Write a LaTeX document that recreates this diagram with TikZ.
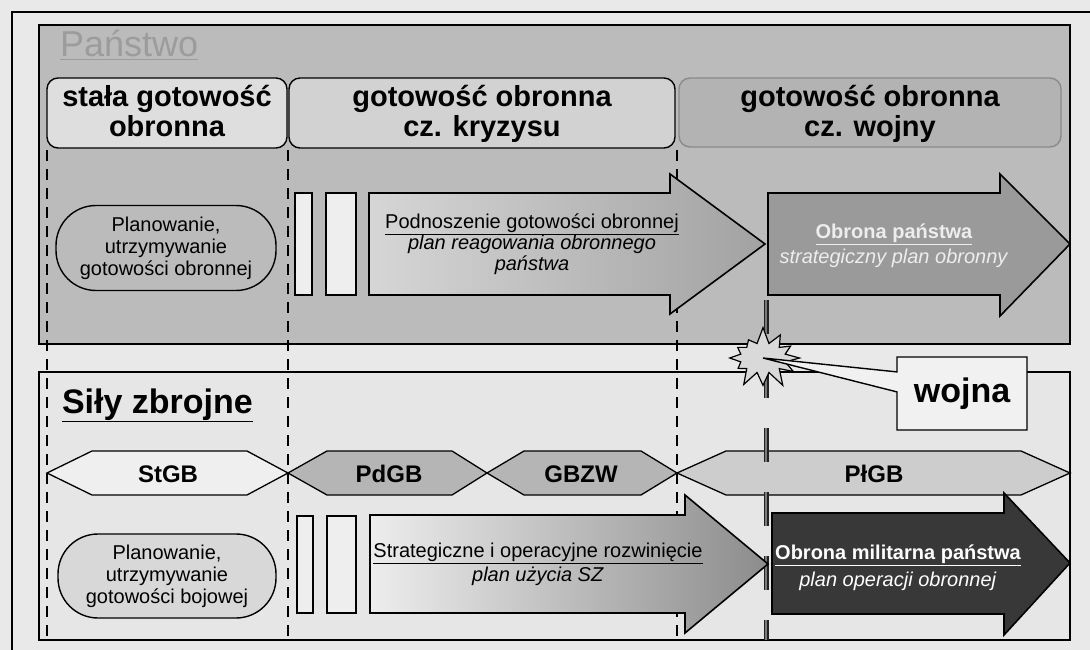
\documentclass[tikz,border=0pt]{standalone}
\usepackage{fontspec}
\setmainfont{Liberation Sans}
\usetikzlibrary{shapes.callouts,shapes.symbols}
\definecolor{paper}{HTML}{E9E9E9}
\definecolor{upperfill}{HTML}{BBBBBB}
\definecolor{lowerfill}{HTML}{E6E6E6}
\definecolor{hdrA}{HTML}{DEDEDE}
\definecolor{hdrB}{HTML}{D2D2D2}
\definecolor{hdrC}{HTML}{B3B3B3}
\definecolor{hdrCborder}{HTML}{8A8A8A}
\definecolor{barfill}{HTML}{EEEEEE}
\definecolor{pantxt}{HTML}{9C9C9C}
\definecolor{lighttext}{HTML}{EDEDED}
\definecolor{armA}{HTML}{D6D6D6}
\definecolor{armB}{HTML}{A2A2A2}
\definecolor{armC}{HTML}{9A9A9A}
\definecolor{armD}{HTML}{EDEDED}
\definecolor{armE}{HTML}{8C8C8C}
\definecolor{armF}{HTML}{383838}
\definecolor{hexlight}{HTML}{EFEFEF}
\definecolor{hexmid}{HTML}{B5B5B5}
\definecolor{hexgrain}{HTML}{CDCDCD}
\definecolor{ovalgrain}{HTML}{D8D8D8}
\definecolor{starfill}{HTML}{D9D9D9}
\definecolor{calloutfill}{HTML}{F1F1F1}
\definecolor{dblgray}{HTML}{222222}
\definecolor{dblin}{HTML}{7A7A7A}
\begin{document}
\begin{tikzpicture}[x=1pt,y=-1pt,
  every node/.style={inner sep=0pt, outer sep=0pt},
  panelbox/.style={draw=black, line width=2.4pt},
  hdrbox/.style={draw=black, line width=1.4pt, rounded corners=11pt},
  hdrtext/.style={anchor=base, font=\fontsize{29}{30}\selectfont\bfseries},
  sepline/.style={line width=2.8pt, dash pattern=on 11pt off 8pt},
  barbox/.style={draw=black, line width=1.6pt, fill=barfill},
  ovalbox/.style={draw=black, line width=1.4pt, rounded corners=40pt, align=center,
    font=\fontsize{20}{22}\selectfont},
  bigarrow/.style={draw=black, line width=1.6pt},
  arrowtext/.style={align=center, font=\fontsize{20}{21}\selectfont},
  hexa/.style={draw=black, line width=1.3pt},
  hexatext/.style={font=\fontsize{24}{26}\selectfont\bfseries},
  frameline/.style={line width=1.4pt},
  warline/.style={draw=dblgray, double=dblin, double distance=2pt, line width=1.5pt,
    dash pattern=on 34pt off 30pt}
]
\useasboundingbox (0,0) rectangle (1090,650);
\fill[paper] (0,0) rectangle (1090,650);

% outer frame (cropped)
\coordinate (fTL) at (12,12);
\coordinate (fTR) at (1090,12);
\coordinate (fBL) at (12,650);
\draw[frameline] (fTR) -- (fTL) -- (fBL);

% upper panel: Panstwo
\draw[panelbox, fill=upperfill] (39,25) rectangle (1070,344);
\node[anchor=base west, font=\fontsize{36}{40}\selectfont, text=pantxt] (pan) at (60,57) {\underline{Państwo}};

% lower panel: Sily zbrojne
\draw[panelbox, fill=lowerfill] (39,372) rectangle (1070,640);
\node[anchor=base west, font=\fontsize{34}{38}\selectfont\bfseries] (sz) at (62,413) {\underline{Siły zbrojne}};

% header boxes
\node[hdrbox, fill=hdrA, minimum width=240pt, minimum height=70pt] (h1) at (167,113) {};
\node[hdrbox, fill=hdrB, minimum width=386pt, minimum height=70pt] (h2) at (482,113) {};
\node[hdrbox, draw=hdrCborder, fill=hdrC, minimum width=382pt, minimum height=69pt] (h3) at (870,112.5) {};
\node[hdrtext] (h1a) at (167,107) {stała gotowość};
\node[hdrtext] (h1b) at (167,137) {obronna};
\node[hdrtext] (h2a) at (482,107) {gotowość obronna};
\node[hdrtext] (h2b) at (482,137) {cz. kryzysu};
\node[hdrtext] (h3a) at (870,107) {gotowość obronna};
\node[hdrtext] (h3b) at (870,137) {cz. wojny};

% phase separators
\coordinate (s1t) at (47,150);  \coordinate (s1b) at (47,640);
\coordinate (s2t) at (288,150); \coordinate (s2b) at (288,640);
\coordinate (s3t) at (677,150); \coordinate (s3b) at (677,640);
\draw[sepline] (s1t) -- (s1b);
\draw[sepline] (s2t) -- (s2b);
\draw[sepline] (s3t) -- (s3b);

% upper row
\node[ovalbox, minimum width=220pt, minimum height=85pt] (o1) at (166,248) {Planowanie,\\utrzymywanie\\gotowości obronnej};
\draw[barbox] (295,193) rectangle (312,295);
\draw[barbox] (326,193) rectangle (356,295);
\path[bigarrow, left color=armA, right color=armB]
  (369,193) -- (670,193) -- (670,174) -- (765,244) -- (670,314) -- (670,295) -- (369,295) -- cycle;
\node[arrowtext] (a1t) at (532,244) {\underline{Podnoszenie gotowości obronnej}\\\textit{plan reagowania obronnego}\\\textit{państwa}};

% war line
\coordinate (wt) at (766,300);
\coordinate (wb) at (766,640);

\path[bigarrow, fill=armC]
  (768,193) -- (1000,193) -- (1000,174) -- (1070,244) -- (1000,316) -- (1000,295) -- (768,295) -- cycle;
\node[arrowtext, text=lighttext] (a2t) at (894,246) {\textbf{\underline{Obrona państwa}}\\[4pt]\textit{strategiczny plan obronny}};

% readiness bands
\draw[hexa, fill=hexlight] (47,473) -- (92,451) -- (247,451) -- (288,473) -- (247,495) -- (92,495) -- cycle;
\draw[hexa, fill=hexmid] (288,473) -- (327,451) -- (452,451) -- (487,473) -- (452,495) -- (327,495) -- cycle;
\draw[hexa, fill=hexmid] (487,473) -- (524,451) -- (641,451) -- (677,473) -- (641,495) -- (524,495) -- cycle;
\draw[hexa, fill=hexgrain] (677,473) -- (726,451) -- (1021,451) -- (1070,473) -- (1021,495) -- (726,495) -- cycle;
\node[hexatext] (stgb) at (168,474) {StGB};
\node[hexatext] (pdgb) at (389,474) {PdGB};
\node[hexatext] (gbzw) at (581,474) {GBZW};
\node[hexatext] (plgb) at (874,474) {PłGB};

\draw[warline] (wt) -- (wb);

% lower row
\node[ovalbox, fill=ovalgrain, minimum width=218pt, minimum height=84pt] (o2) at (167,576) {Planowanie,\\utrzymywanie\\gotowości bojowej};
\draw[barbox] (297,516) rectangle (313,613);
\draw[barbox] (327,516) rectangle (356,613);
\path[bigarrow, left color=armD, right color=armE]
  (370,515) -- (685,515) -- (685,495) -- (768,564) -- (685,633) -- (685,613) -- (370,613) -- cycle;
\node[arrowtext] (a3t) at (538,564) {\underline{Strategiczne i operacyjne rozwinięcie}\\[3pt]\textit{plan użycia SZ}};
\path[bigarrow, fill=armF]
  (772,513) -- (1004,513) -- (1004,493) -- (1070,563) -- (1004,635) -- (1004,614) -- (772,614) -- cycle;
\node[arrowtext, text=white] (a4t) at (898,568) {\textbf{\underline{Obrona militarna państwa}}\\[6pt]\textit{plan operacji obronnej}};

% outbreak of war
\node[starburst, starburst points=12, starburst point height=17pt, random starburst=7,
  draw=black, line width=1.2pt, fill=starfill, minimum width=80pt, minimum height=64pt] (star) at (763,358) {};
\node[rectangle callout, callout absolute pointer={(star.center)}, callout pointer width=20pt,
  draw=black, line width=1.4pt, fill=calloutfill, minimum width=130pt, minimum height=73pt,
  font=\fontsize{34}{38}\selectfont\bfseries] (wojna) at (962,393.5) {wojna};
\end{tikzpicture}
\end{document}
